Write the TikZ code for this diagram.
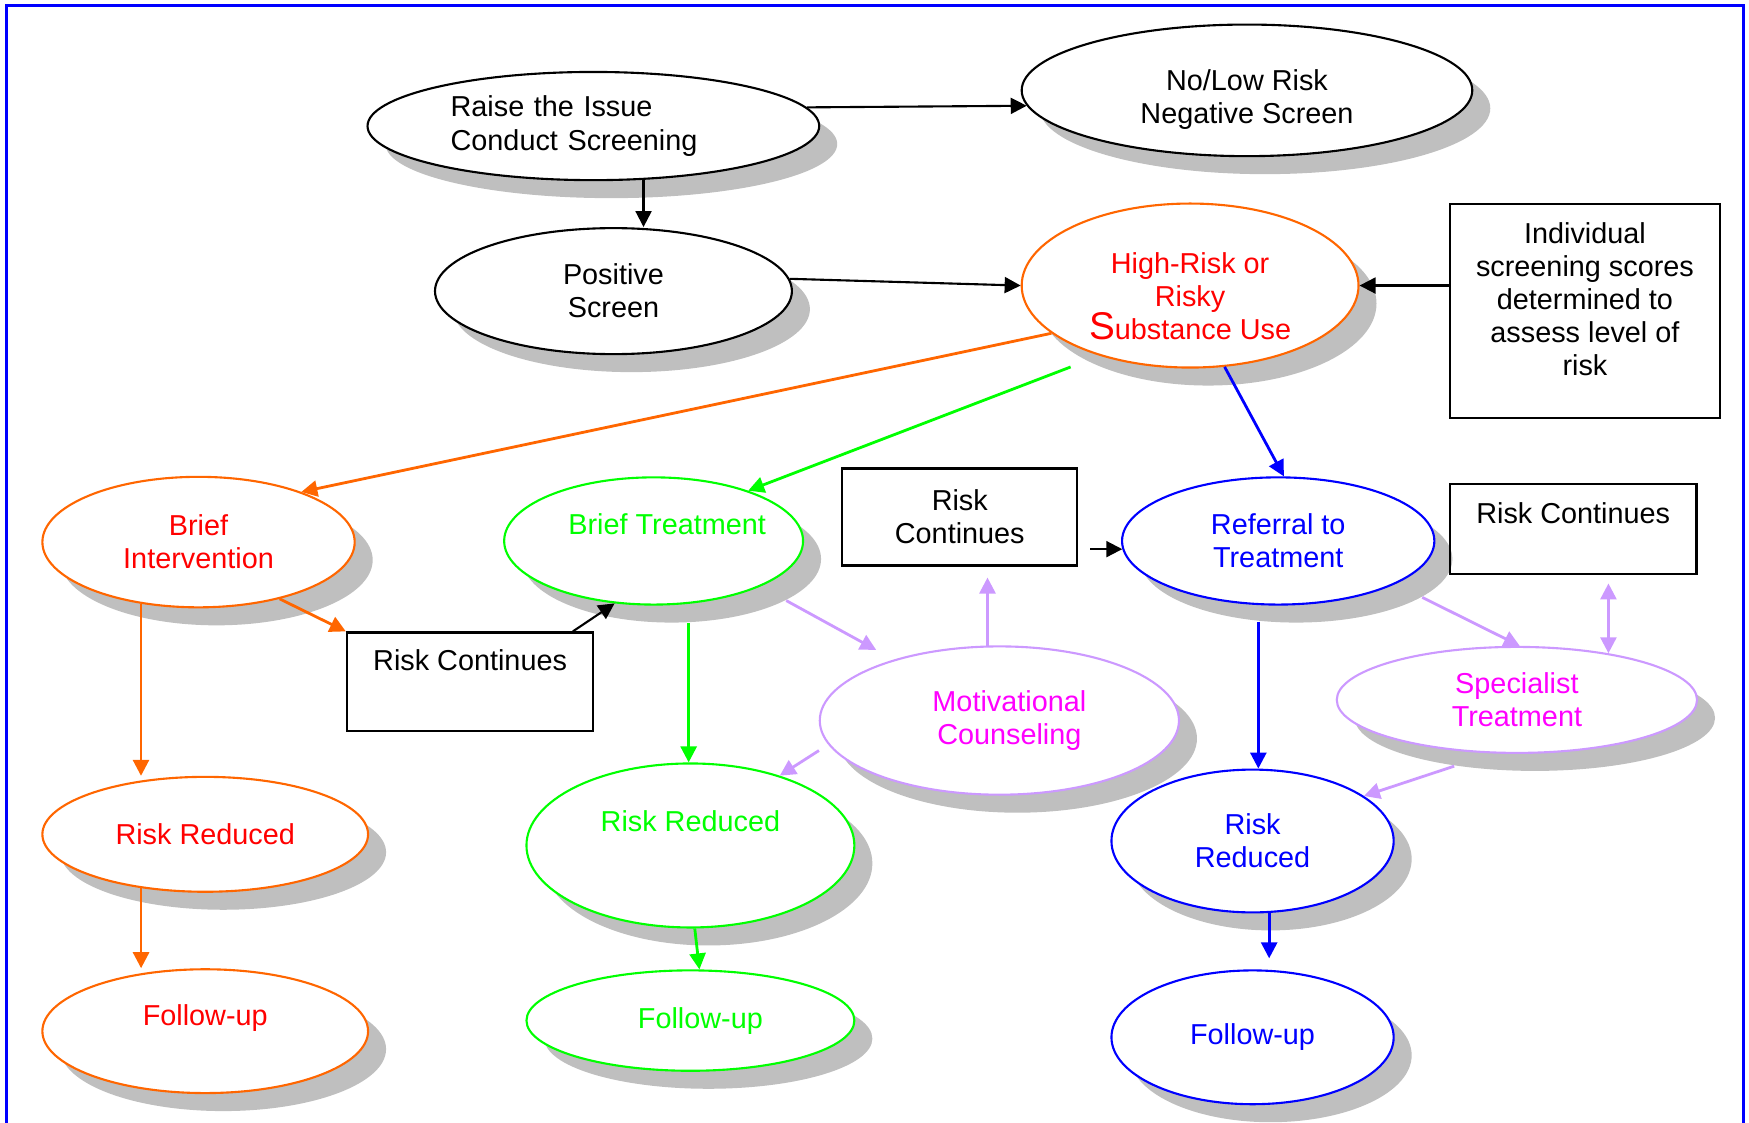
\documentclass[tikz,border=0pt]{standalone}
\usepackage{fontspec}
\setmainfont{Liberation Sans}
\usetikzlibrary{arrows.meta,shapes.geometric,shadows}
\definecolor{orng}{HTML}{FF6600}
\definecolor{grn}{HTML}{00FF00}
\definecolor{blu}{HTML}{0000FF}
\definecolor{lav}{HTML}{CC99FF}
\definecolor{mag}{HTML}{FF00FF}
\tikzstyle{ell}=[ellipse, draw, fill=white, line width=0.6pt, inner sep=1pt, align=center, drop shadow={shadow xshift=1.8mm, shadow yshift=-1.8mm, fill=black!25, opacity=1}]
\tikzstyle{box}=[draw, line width=0.6pt, inner sep=0pt]
\tikzstyle{blk}=[->, line width=0.6pt]
\tikzstyle{orl}=[->, orng, line width=0.8pt]
\tikzstyle{grl}=[->, grn, line width=0.8pt]
\tikzstyle{bll}=[->, blu, line width=0.8pt]
\tikzstyle{lvl}=[->, lav, line width=0.8pt]

\begin{document}
\begin{tikzpicture}[x=0.011154cm, y=-0.011154cm, >={Triangle[length=1.6mm,width=1.6mm]}, font=\fontsize{8.2}{9.4}\selectfont]
\useasboundingbox (0,0) rectangle (1568.1,1006.8);
\draw[blu, line width=0.3mm] (6,1020) -- (6,4.5) -- (1563,4.5) -- (1563,1020);

% screening
\node[ell, minimum width=45.17mm, minimum height=10.82mm, text width=28.55mm, align=left] (raise) at (532,113) {Raise the Issue\\Conduct Screening};
\node[ell, minimum width=45.06mm, minimum height=13.16mm,
      label={[name=negtxt, align=center, yshift=-0.9mm]center:No/Low Risk\\Negative Screen}] (neg) at (1118,81) {};
\node[ell, minimum width=35.69mm, minimum height=12.6mm] (pos) at (550,261) {Positive\\Screen};
\node[ell, draw=orng, minimum width=33.68mm, minimum height=16.4mm,
      label={[name=hightxt, text=red, align=center, yshift=-1.1mm]center:High-Risk or\\Risky\\{\fontsize{11}{9.4}\selectfont S}ubstance Use}] (high) at (1067,256) {};
\node[box, minimum width=26.99mm, minimum height=21.42mm,
      label={[name=indivtxt, align=center, yshift=1.2mm]center:Individual\\screening scores\\determined to\\assess level of\\risk}] (indiv) at (1421,279) {};

% interventions
\node[ell, draw=orng, text=red, minimum width=31.23mm, minimum height=13.05mm] (bi) at (178,486) {Brief\\Intervention};
\node[ell, draw=grn, minimum width=29.89mm, minimum height=12.72mm,
      label={[name=bttxt, text=grn, xshift=1.35mm, yshift=1.65mm]center:Brief Treatment}] (bt) at (586,485) {};
\node[box, align=center, minimum width=23.53mm, minimum height=9.7mm] (rc1) at (860.5,463.5) {Risk\\Continues};
\node[ell, draw=blu, text=blu, minimum width=31.23mm, minimum height=12.72mm] (ref) at (1146,485) {Referral to\\Treatment};
\node[box, minimum width=24.65mm, text height=3.9mm, text depth=5.13mm] (rc2) at (1410.5,474.5) {Risk Continues};
\node[box, minimum width=24.65mm, text height=3.79mm, text depth=6.02mm] (rc0) at (421.5,611) {Risk Continues};
\node[ell, draw=lav, minimum width=35.92mm, minimum height=14.83mm,
      label={[name=mctxt, text=mag, align=center, xshift=1mm]center:Motivational\\Counseling}] (mc) at (896,646) {};
\node[ell, draw=lav, text=mag, minimum width=36.03mm, minimum height=10.6mm] (st) at (1360,627.5) {Specialist\\Treatment};

% outcomes
\node[ell, draw=orng, text=red, minimum width=32.57mm, minimum height=11.49mm] (rr1) at (184,748) {Risk Reduced};
\node[ell, draw=grn, text=grn, minimum width=32.79mm, minimum height=16.4mm, text depth=4.9mm] (rr2) at (619,758) {Risk Reduced};
\node[ell, draw=blu, text=blu, minimum width=28.22mm, minimum height=14.28mm] (rr3) at (1123,754) {Risk\\Reduced};
\node[ell, draw=orng, text=red, minimum width=32.57mm, minimum height=12.38mm, text depth=3.2mm] (fu1) at (184,924.5) {Follow-up};
\node[ell, draw=grn, text=grn, minimum width=32.79mm, minimum height=10.04mm] (fu2) at (619,915) {\hspace*{2mm}Follow-up};
\node[ell, draw=blu, text=blu, minimum width=28.22mm, minimum height=13.38mm] (fu3) at (1123,930) {Follow-up};

% arrows
\draw[blk] (raise.5.5) -- (neg.184);
\draw[blk] (raise.-47.5) -- (raise.-47.5 |- pos.north);
\draw[blk] (pos.4) -- (high.west);
\draw[blk] (high.east -| indiv.west) -- (high.east);
\draw[orl] (high.199) -- (bi.26);
\draw[grl] ([shift={(-20,12)}]high.215) -- (bt.28);
\draw[bll] (high.-67) -- (ref.85);
\draw[orl] (bi.-35) -- (rc0.north west);
\draw[orl] (bi.227.5) -- (bi.227.5 |- rr1.north);
\draw[orl] (rr1.220) -- (rr1.220 |- fu1.north);
\draw[blk] (rc0.26) -- (bt.-122);
\coordinate (bts) at ([shift={(16,16)}]bt.-75);
\draw[grl] (bts) -- (bts |- rr2.north);
\draw[grl] (rr2.-87) -- (fu2.80);
\draw[lvl, shorten >=2mm] ([shift={(16,16)}]bt.-20) -- (mc.150);
\draw[lvl, shorten >=1.1mm] (mc.99) -- (mc.99 |- rc1.south);
\draw[lvl, shorten <=1.1mm] (mc.188) -- (rr2.38);
\draw[blk, shorten <=1.2mm] (rc1.east |- ref.183) -- (ref.183);
\coordinate (refs) at ([shift={(16,16)}]ref.-121);
\draw[bll] (refs) -- (refs |- rr3.north);
\draw[lvl] ([shift={(16,16)}]ref.-17) -- (st.87);
\draw[lvl, <->, shorten >=0.8mm] (st.27) -- (st.27 |- rc2.south);
\draw[lvl] ([shift={(16,16)}]st.211) -- (rr3.22);
\draw[bll, shorten >=1.1mm] (rr3.-77) -- (rr3.-77 |- fu3.north);
\end{tikzpicture}
\end{document}
